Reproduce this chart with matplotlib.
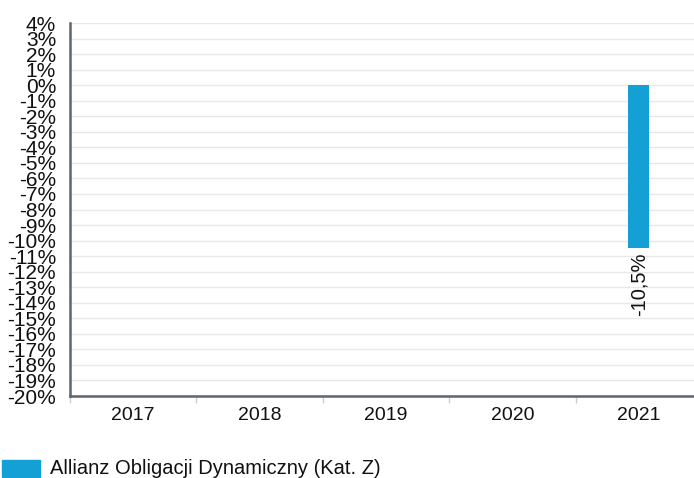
import matplotlib.pyplot as plt
import matplotlib.ticker as mticker
from matplotlib.patches import Rectangle

# data
years = ["2017", "2018", "2019", "2020", "2021"]
returns = [None, None, None, None, -10.5]
series_name = "Allianz Obligacji Dynamiczny (Kat. Z)"
y_ticks = list(range(-20, 5))

bar_color = "#14a0d4"
axis_color = "#5b6670"

plt.rcParams["font.family"] = ["Liberation Sans", "DejaVu Sans"]

W, H = 694, 478
fig = plt.figure(figsize=(W / 100, H / 100), dpi=100)
# plot area runs slightly past the right edge of the image
ax = fig.add_axes([70 / W, 1 - 396 / H, 632 / W, 373 / H])

xs = [i for i, v in enumerate(returns) if v is not None]
vals = [v for v in returns if v is not None]
ax.bar(xs, vals, width=0.165, color=bar_color, zorder=3)

for x, v in zip(xs, vals):
    ax.annotate(f"{v:.1f}%".replace(".", ","), (x, v), xytext=(0, -3),
                textcoords="offset points", rotation=90, ha="center", va="top",
                fontsize=14.5, color="#111111")

ax.set_xlim(-0.5, len(years) - 0.5)
ax.set_ylim(-20, 4)
ax.set_yticks(y_ticks)
ax.yaxis.set_major_formatter(mticker.FuncFormatter(lambda v, p: f"{int(v)}%"))
ax.set_xticks(range(len(years)))
ax.set_xticklabels(years)
ax.set_xticks([i - 0.5 for i in range(len(years) + 1)], minor=True)

ax.grid(axis="y", color="#e8e8e8", linewidth=1, zorder=0)
ax.tick_params(axis="y", length=0, pad=10, labelsize=15, labelcolor="#111111")
ax.tick_params(axis="x", which="major", length=0, pad=8, labelsize=14, labelcolor="#111111")
ax.tick_params(axis="x", which="minor", length=5, color="#cccccc", width=1)

for s in ["top", "right"]:
    ax.spines[s].set_visible(False)
for s in ["left", "bottom"]:
    ax.spines[s].set_color(axis_color)
    ax.spines[s].set_linewidth(1.8)

# legend at the bottom left
fig.patches.append(Rectangle((2 / W, 1 - 477 / H), 38 / W, 17 / H,
                             transform=fig.transFigure, color=bar_color))
fig.text(50 / W, 1 - 469 / H, series_name, fontsize=14.5, va="center",
         ha="left", color="#111111")

fig.savefig("out.png", dpi=100)
